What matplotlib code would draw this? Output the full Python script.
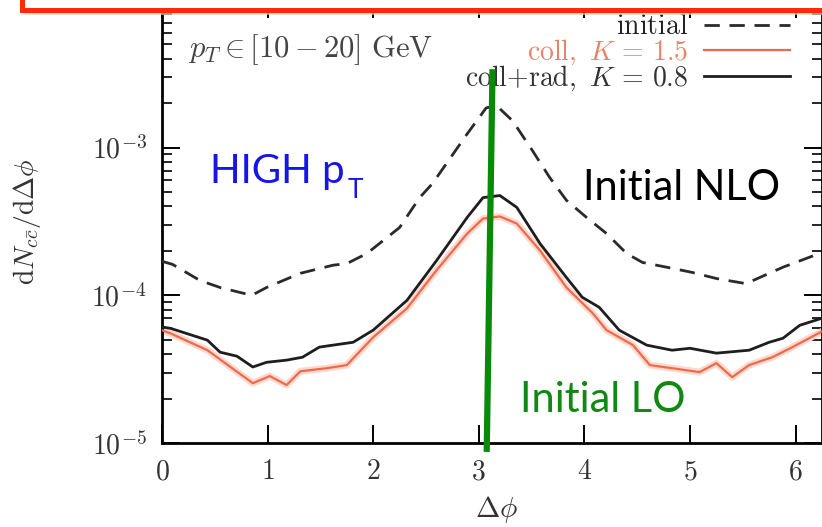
import numpy as np
import matplotlib
matplotlib.use("Agg")
import matplotlib.pyplot as plt
from matplotlib.patches import Rectangle

plt.rcParams['mathtext.fontset'] = 'cm'
plt.rcParams['font.family'] = ['DejaVu Serif']

# ---- data ----
initial_x = [0.0, 0.10, 0.36, 0.55, 0.85, 0.99, 1.31, 1.62, 1.75, 1.94, 2.25, 2.44, 2.56, 2.89,
             3.07, 3.17, 3.32, 3.51, 3.67, 3.83, 4.02, 4.21, 4.40, 4.55, 4.78, 5.02, 5.25, 5.53,
             5.66, 5.88, 6.25]
initial_y = [1.70e-4, 1.62e-4, 1.26e-4, 1.13e-4, 1.00e-4, 1.13e-4, 1.41e-4, 1.60e-4, 1.64e-4,
             1.92e-4, 2.88e-4, 4.59e-4, 5.70e-4, 1.24e-3, 1.86e-3, 1.92e-3, 1.52e-3, 9.5e-4,
             6.3e-4, 4.4e-4, 3.37e-4, 2.62e-4, 1.92e-4, 1.67e-4, 1.55e-4, 1.43e-4, 1.30e-4,
             1.20e-4, 1.32e-4, 1.55e-4, 1.95e-4]

coll_x = [0.0, 0.08, 0.43, 0.86, 1.02, 1.18, 1.31, 1.56, 1.75, 2.00, 2.32, 2.60, 2.89, 3.04,
          3.20, 3.36, 3.58, 3.83, 4.08, 4.21, 4.46, 4.62, 4.83, 5.09, 5.25, 5.40, 5.56, 5.78,
          5.97, 6.25]
coll_y = [5.8e-5, 5.53e-5, 4.25e-5, 2.54e-5, 2.84e-5, 2.47e-5, 3.06e-5, 3.21e-5, 3.37e-5,
          5.2e-5, 8.16e-5, 1.48e-4, 2.62e-4, 3.31e-4, 3.42e-4, 3.06e-4, 2.01e-4, 1.13e-4,
          7.55e-5, 5.81e-5, 4.6e-5, 3.37e-5, 3.21e-5, 3.02e-5, 3.47e-5, 2.79e-5, 3.37e-5,
          3.81e-5, 4.46e-5, 5.7e-5]

rad_x = [0.0, 0.08, 0.43, 0.55, 0.71, 0.86, 0.99, 1.18, 1.33, 1.49, 1.62, 1.81, 2.00, 2.32,
         2.60, 2.89, 3.04, 3.20, 3.36, 3.58, 3.83, 3.98, 4.14, 4.33, 4.59, 4.83, 5.00, 5.25,
         5.56, 5.75, 5.88, 6.04, 6.25]
rad_y = [6.1e-5, 5.98e-5, 4.97e-5, 4.12e-5, 3.87e-5, 3.27e-5, 3.52e-5, 3.64e-5, 3.81e-5,
         4.46e-5, 4.6e-5, 4.81e-5, 5.81e-5, 9.25e-5, 1.72e-4, 3.37e-4, 4.59e-4, 4.74e-4,
         3.94e-4, 2.24e-4, 1.32e-4, 9.7e-5, 8.3e-5, 5.81e-5, 4.6e-5, 4.25e-5, 4.38e-5,
         4.06e-5, 4.25e-5, 4.81e-5, 5.12e-5, 6.27e-5, 7.0e-5]

labels = [r'$\mathrm{initial}$', r'$\mathrm{coll},\ K\,=\,1.5$',
          r'$\mathrm{coll{+}rad},\ K\,=\,0.8$']
label_colors = ['#222222', '#e8836a', '#333333']
xticks = [0, 1, 2, 3, 4, 5, 6]
yticks = [1e-5, 1e-4, 1e-3]
ytick_labels = [r'$10^{-5}$', r'$10^{-4}$', r'$10^{-3}$']

# annotation overlay (green marker line, in data units)
marker_x = [3.13, 3.075]
marker_y = [3.4e-3, 8.7e-6]

W, H = 822, 527
fig = plt.figure(figsize=(W / 100, H / 100), dpi=100)
ax = fig.add_axes([162 / W, (H - 443) / H, (W - 162) / W, 443 / H])
ax.set_yscale('log')
ax.set_xlim(0, 6.25)
ax.set_ylim(1e-5, 1e-2)

orange = '#ee6a4c'
ax.plot(coll_x, coll_y, color='#fbd9cf', lw=5, zorder=2, solid_joinstyle='round')
l1, = ax.plot(initial_x, initial_y, color='#2a2a2a', lw=2.0, ls=(0, (5.5, 3.5)), zorder=3)
l2, = ax.plot(coll_x, coll_y, color=orange, lw=1.6, zorder=3)
l3, = ax.plot(rad_x, rad_y, color='#1e1e1e', lw=2.0, zorder=4)

# legend: one row per entry so that rows are evenly spaced
row_y = [27, 52, 78]
legs = []
for h, lab, col, yy in zip([l1, l2, l3], labels, label_colors, row_y):
    lg = ax.legend([h], [lab], loc='center right', bbox_to_anchor=(790 / W, 1 - yy / H),
                   bbox_transform=fig.transFigure, frameon=False, markerfirst=False,
                   fontsize=20, handlelength=3.1, handletextpad=0.55,
                   borderpad=0, borderaxespad=0)
    lg.get_texts()[0].set_color(col)
    legs.append(lg)
for lg in legs[:-1]:
    ax.add_artist(lg)

ax.set_xticks(xticks)
ax.set_xticklabels([f'${v}$' for v in xticks])
ax.set_yticks(yticks)
ax.set_yticklabels(ytick_labels)
ax.tick_params(which='both', direction='in', top=True, right=True, labelsize=20,
               labelcolor='#333333', pad=11)
ax.tick_params(which='major', length=13, width=1.4)
ax.tick_params(which='minor', length=7, width=1.2)
for s in ax.spines.values():
    s.set_linewidth(2.0)

ax.set_xlabel(r'$\Delta\phi$', fontsize=21, color='#333333')
ax.xaxis.set_label_coords((497 - 162) / 660, (443 - 494) / 443)
ax.set_ylabel(r'$\mathrm{d}N_{c\bar{c}}/\mathrm{d}\Delta\phi$', fontsize=20, color='#333333')
ax.yaxis.set_label_coords((43 - 162) / 660, 0.5)

ax.text((188 - 162) / 660, 1 - 50 / 443, r'$p_T \in [10-20]\ \mathrm{GeV}$',
        transform=ax.transAxes, fontsize=22, color='#444444', va='center', ha='left')

t_high = ax.text((210 - 162) / 660, 1 - 183 / 443, 'HIGH p', transform=ax.transAxes,
                 fontsize=29, color='#1515e6', family='Lato', va='baseline', ha='left')
ax.annotate('T', xy=(1, 0), xycoords=t_high, xytext=(2, -6), textcoords='offset points',
            fontsize=19, color='#1515e6', family='Lato', va='baseline', ha='left')
ax.text((583 - 162) / 660, 1 - 200 / 443, 'Initial NLO', transform=ax.transAxes,
        fontsize=30, color='black', family='Lato', va='baseline', ha='left')
ax.text((520 - 162) / 660, 1 - 412 / 443, 'Initial LO', transform=ax.transAxes,
        fontsize=30, color='#118811', family='Lato', va='baseline', ha='left')

ax.plot(marker_x, marker_y, color='#0a8a0a', lw=4.5, clip_on=False, zorder=6,
        solid_capstyle='butt')

# red frame overlay at top
shadow = Rectangle((25 / W, 1 - 15 / H), 1.2, 0.5, transform=fig.transFigure,
                   facecolor='#d0d0d0', edgecolor='none', alpha=0.7, zorder=9)
fig.add_artist(shadow)
box = Rectangle((22 / W, 1 - 10 / H), 1.2, 0.5, transform=fig.transFigure,
                facecolor='white', edgecolor='#ff2a0a', lw=3.6, zorder=10)
fig.add_artist(box)

fig.savefig('out.png', dpi=100)
